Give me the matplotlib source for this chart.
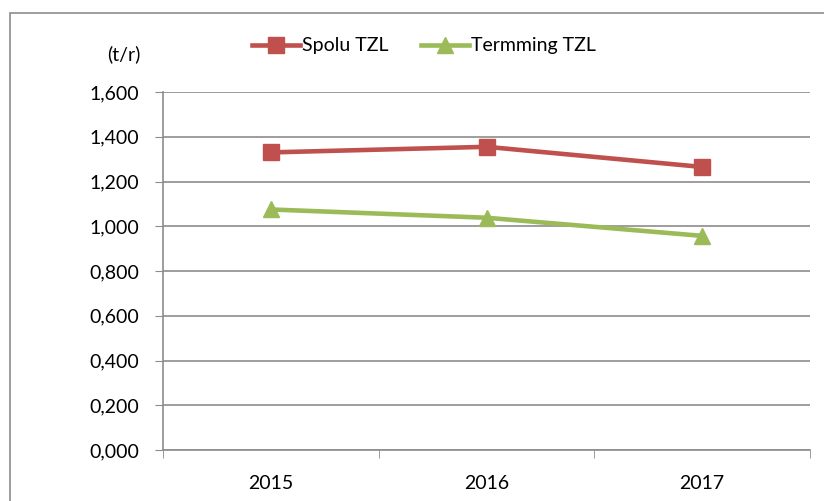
import matplotlib
matplotlib.use('Agg')
import matplotlib.pyplot as plt
from matplotlib.patches import Rectangle
from matplotlib.ticker import FuncFormatter, FixedLocator

## -- data
years = ['2015', '2016', '2017']
spolu = [1.330, 1.355, 1.265]
termming = [1.075, 1.038, 0.957]
yticks = [0.0, 0.2, 0.4, 0.6, 0.8, 1.0, 1.2, 1.4, 1.6]

red = '#C0504D'
green = '#9BBB59'
grid = '#8C8C8C'
fs = 14

plt.rcParams['font.family'] = ['Lato', 'DejaVu Sans']

W, H = 824, 501
fig = plt.figure(figsize=(W / 100, H / 100), dpi=100)

# outer chart border (runs off the right and bottom edge)
fig.patches.append(Rectangle((10 / W, -0.1), 2, 1 - 13 / H + 0.1, transform=fig.transFigure,
                             fill=False, edgecolor='#8C8C8C', linewidth=1.2))

ax = fig.add_axes([163 / W, 1 - 450 / H, (810 - 163) / W, (450 - 92) / H])

x = range(len(years))
ax.plot(x, spolu, color=red, linewidth=3.3, marker='s', markersize=11, label='Spolu TZL', zorder=3)
ax.plot(x, termming, color=green, linewidth=3.3, marker='^', markersize=12, label='Termming TZL', zorder=3)

ax.set_xlim(-0.5, 2.5)
ax.set_ylim(0, 1.6)
ax.yaxis.set_major_locator(FixedLocator(yticks))
ax.yaxis.set_major_formatter(FuncFormatter(lambda v, p: f'{v:.3f}'.replace('.', ',')))
ax.set_xticks(list(x))
ax.set_xticklabels(years)
ax.set_xticks([-0.5, 0.5, 1.5, 2.5], minor=True)
ax.tick_params(axis='x', which='major', length=0, pad=18, labelsize=fs)
ax.tick_params(axis='x', which='minor', length=6, color=grid, direction='out')
ax.tick_params(axis='y', length=6, color=grid, pad=11, labelsize=fs)

ax.grid(axis='y', color=grid, linewidth=1.2)
ax.set_axisbelow(True)
for s in ['top', 'right']:
    ax.spines[s].set_visible(False)
for s in ['left', 'bottom']:
    ax.spines[s].set_color(grid)
    ax.spines[s].set_linewidth(1.2)

fig.text(124 / W, 1 - 54 / H, '(t/r)', ha='center', va='center', fontsize=fs)

fig.legend(loc='center', bbox_to_anchor=(424 / W, 1 - 46 / H), ncol=2, frameon=False,
           fontsize=fs, handlelength=2.5, handletextpad=0.1, columnspacing=1.65,
           borderpad=0, borderaxespad=0)

plt.savefig('out.png', dpi=100)
